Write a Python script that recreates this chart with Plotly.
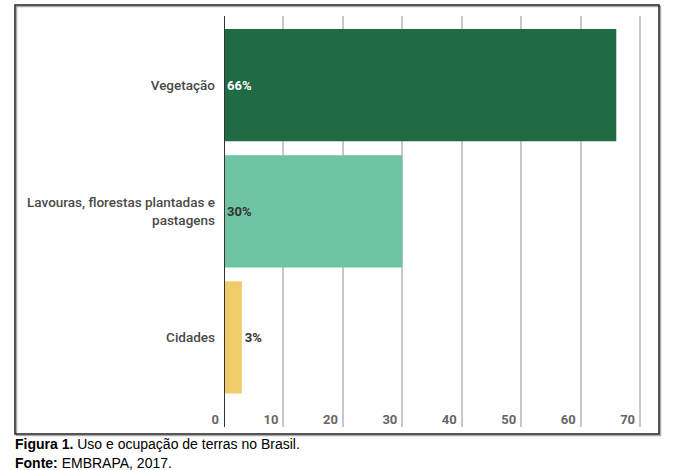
import plotly.graph_objects as go

categories = ["Vegetação", "Lavouras, florestas plantadas e<br>pastagens", "Cidades"]
values = [66, 30, 3]
labels = ["66%", "30%", "3%"]
colors = ["#1f6b44", "#6fc5a3", "#f0cb69"]
text_colors = ["#ffffff", "#333333", "#333333"]
x_ticks = [0, 10, 20, 30, 40, 50, 60, 70]

L, R, T, B = 224, 34, 16, 43
W, H = 680, 470
pw = W - L - R
ph = H - T - B

def px_to_paper_x(px):
    return (px - L) / pw

def py_to_paper_y(py):
    return (H - B - py) / ph

fig = go.Figure()
fig.add_trace(go.Bar(
    y=list(range(len(categories))),
    x=values,
    orientation="h",
    width=0.89,
    marker=dict(color=colors, line=dict(width=0)),
    text=labels,
    textposition=["inside", "inside", "outside"],
    insidetextanchor="start",
    textfont=dict(family="Roboto", size=13, color=text_colors, weight="bold"),
    outsidetextfont=dict(family="Roboto", size=13, color="#333333", weight="bold"),
    constraintext="none",
    cliponaxis=False,
    hoverinfo="skip",
))

fig.update_layout(
    width=W, height=H,
    margin=dict(l=L, r=R, t=T, b=B, autoexpand=False),
    paper_bgcolor="white",
    plot_bgcolor="white",
    showlegend=False,
    xaxis=dict(
        range=[0, 71],
        tickvals=x_ticks,
        ticktext=[str(v) for v in x_ticks],
        ticklabelposition="inside left",
        ticklabeloverflow="allow",
        ticklabelshift=-5,
        ticklabelstandoff=-6,
        showgrid=True,
        gridcolor="#c8c8c8",
        gridwidth=1.5,
        zeroline=False,
        showline=False,
        ticks="",
        automargin=False,
        tickfont=dict(family="Roboto", size=13, color="#666666", weight="bold"),
        fixedrange=True,
    ),
    yaxis=dict(
        range=[2.71, -0.548],
        tickvals=list(range(len(categories))),
        ticktext=categories,
        showgrid=False,
        zeroline=False,
        showline=False,
        ticks="",
        automargin=False,
        ticklabelstandoff=8,
        tickfont=dict(family="Roboto", size=13.5, color="#4a4a4a", weight=500),
        fixedrange=True,
    ),
)

# zero axis line
fig.add_shape(type="line", xref="x", yref="paper", x0=0, x1=0, y0=0, y1=1,
              line=dict(color="#333333", width=2))

# outer frame shadow and frame
fig.add_shape(type="rect", xref="paper", yref="paper",
              x0=px_to_paper_x(16.5), x1=px_to_paper_x(660.5),
              y0=py_to_paper_y(435.5), y1=py_to_paper_y(6.5),
              line=dict(color="#aaaaaa", width=1.5), fillcolor="rgba(0,0,0,0)", layer="above")
fig.add_shape(type="rect", xref="paper", yref="paper",
              x0=px_to_paper_x(15), x1=px_to_paper_x(659),
              y0=py_to_paper_y(434), y1=py_to_paper_y(5),
              line=dict(color="#222222", width=1.5), fillcolor="rgba(0,0,0,0)", layer="above")

# caption
cap_font = dict(family="Liberation Sans", size=14, color="#000000")
fig.add_annotation(xref="paper", yref="paper", x=px_to_paper_x(13), y=py_to_paper_y(444),
                   xanchor="left", yanchor="middle", showarrow=False,
                   text="<b>Figura 1.</b> Uso e ocupação de terras no Brasil.",
                   font=cap_font)
fig.add_annotation(xref="paper", yref="paper", x=px_to_paper_x(13), y=py_to_paper_y(463),
                   xanchor="left", yanchor="middle", showarrow=False,
                   text="<b>Fonte:</b> EMBRAPA, 2017.",
                   font=cap_font)

fig.write_html("out.html", config={"displayModeBar": False},
               post_script="document.body.style.margin='0';")
